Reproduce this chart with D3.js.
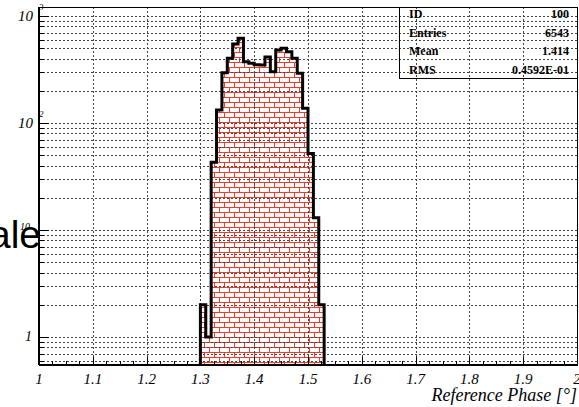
<!DOCTYPE html>
<meta charset="utf-8">

<style>
body { margin: 0; background: #fff; }
svg { display: block; }

.grid line {
  stroke: #444;
  stroke-width: 1px;
  stroke-dasharray: 2,2;
  shape-rendering: crispEdges;
}
.grid path { stroke-width: 0; }

.ticks path { display: none; }
.ticks line { stroke: #000; stroke-width: 1px; shape-rendering: crispEdges; }

.lbl {
  font-family: "Liberation Serif", "Times New Roman", Times, "DejaVu Serif", serif;
  font-style: italic;
  fill: #000;
}
.stats {
  font-family: "Liberation Serif", "Times New Roman", Times, "DejaVu Serif", serif;
  font-weight: bold;
  font-size: 12px;
  fill: #000;
}
.outline {
  fill: none;
  stroke: #000;
  stroke-width: 3px;
  stroke-linejoin: miter;
}
</style>

<body>

<script src="https://d3js.org/d3.v7.min.js"></script>

<script>

// histogram: lower bin edges and bin contents
var binLow = [1.30, 1.31, 1.32, 1.33, 1.34, 1.35, 1.36, 1.37, 1.38, 1.39, 1.40, 1.41,
              1.42, 1.43, 1.44, 1.45, 1.46, 1.47, 1.48, 1.49, 1.50, 1.51, 1.52];
var binWidth = 0.01;
var counts = [2, 1, 43, 132, 295, 402, 547, 619, 374, 361, 350, 348,
              414, 302, 481, 499, 464, 402, 291, 137, 52, 13, 2];

// axis ticks
var xTicks = [1, 1.1, 1.2, 1.3, 1.4, 1.5, 1.6, 1.7, 1.8, 1.9, 2];
var xTickLabels = ["1", "1.1", "1.2", "1.3", "1.4", "1.5", "1.6", "1.7", "1.8", "1.9", "2"];
var xMinorTicks = [1.025, 1.05, 1.075, 1.125, 1.15, 1.175, 1.225, 1.25, 1.275,
                   1.325, 1.35, 1.375, 1.425, 1.45, 1.475, 1.525, 1.55, 1.575,
                   1.625, 1.65, 1.675, 1.725, 1.75, 1.775, 1.825, 1.85, 1.875,
                   1.925, 1.95, 1.975];
var yGrid = [0.6, 0.7, 0.8, 0.9, 1, 2, 3, 4, 5, 6, 7, 8, 9,
             10, 20, 30, 40, 50, 60, 70, 80, 90,
             100, 200, 300, 400, 500, 600, 700, 800, 900, 1000];
var yMajor = [1, 10, 100, 1000];

// statistics box
var statNames = ["ID", "Entries", "Mean", "RMS"];
var statValues = ["100", "6543", "1.414", "0.4592E-01"];

var xTitle = "Reference Phase [\u00b0]";

var margin = {top: 7, right: 2, bottom: 42, left: 39},
    width = 579 - margin.left - margin.right,
    height = 407 - margin.top - margin.bottom;

var x = d3.scaleLinear().domain([1, 2]).range([0, width]);
var y = d3.scaleLog().domain([0.547, 1214]).range([height, 0]);

var root = d3.select("body").append("svg")
    .attr("width", width + margin.left + margin.right)
    .attr("height", height + margin.top + margin.bottom);

// brick fill pattern
var pat = root.append("defs").append("pattern")
    .attr("id", "brick")
    .attr("patternUnits", "userSpaceOnUse")
    .attr("width", 10)
    .attr("height", 10);
pat.append("rect").attr("width", 10).attr("height", 10).attr("fill", "#fff");
pat.append("path")
    .attr("d", "M0 0.5H10M0 5.5H10M0.5 0V5M5.5 5V10")
    .attr("stroke", "#f03c28")
    .attr("stroke-width", 1)
    .attr("fill", "none");

// stray large text at the left edge
root.append("text")
    .attr("x", 41)
    .attr("y", 248)
    .attr("text-anchor", "end")
    .style("font-family", "'Liberation Sans', Arial, sans-serif")
    .style("font-size", "39px")
    .text("scale");

var svg = root.append("g")
    .attr("transform", "translate(" + margin.left + "," + margin.top + ")");

// histogram step outline
var pts = [{x: binLow[0], y: null}];
binLow.forEach(function(lo, i) {
  pts.push({x: lo, y: counts[i]});
  pts.push({x: lo + binWidth, y: counts[i]});
});
pts.push({x: binLow[binLow.length - 1] + binWidth, y: null});

var line = d3.line()
    .x(function(d) { return x(d.x); })
    .y(function(d) { return d.y === null ? height : y(d.y); });

svg.append("path")
    .datum(pts)
    .attr("d", line)
    .attr("fill", "url(#brick)");

// gridlines
svg.append("g")
  .attr("class", "grid")
  .attr("transform", "translate(0," + height + ")")
  .call(d3.axisBottom(x)
      .tickValues(xTicks.slice(1, -1))
      .tickSize(-height)
      .tickFormat(""));

svg.append("g")
  .attr("class", "grid")
  .call(d3.axisLeft(y)
      .tickValues(yGrid)
      .tickSize(-width)
      .tickFormat(""));

svg.append("path")
    .datum(pts)
    .attr("class", "outline")
    .attr("d", line);

// inward ticks
svg.append("g")
  .attr("class", "ticks")
  .attr("transform", "translate(0," + height + ")")
  .call(d3.axisBottom(x).tickValues(xTicks).tickSize(-8).tickFormat(""));
svg.append("g")
  .attr("class", "ticks")
  .attr("transform", "translate(0," + height + ")")
  .call(d3.axisBottom(x).tickValues(xMinorTicks).tickSize(-4).tickFormat(""));
svg.append("g")
  .attr("class", "ticks")
  .call(d3.axisLeft(y).tickValues(yGrid).tickSize(-5).tickFormat(""));
svg.append("g")
  .attr("class", "ticks")
  .call(d3.axisLeft(y).tickValues(yMajor).tickSize(-10).tickFormat(""));

// frame
svg.append("rect")
    .attr("width", width)
    .attr("height", height)
    .attr("fill", "none")
    .attr("stroke", "#000")
    .attr("stroke-width", 1)
    .attr("shape-rendering", "crispEdges");
svg.append("line")
    .attr("x1", 0).attr("x2", 0).attr("y1", 0).attr("y2", height)
    .attr("stroke", "#000").attr("stroke-width", 2);
svg.append("line")
    .attr("x1", 0).attr("x2", width).attr("y1", height).attr("y2", height)
    .attr("stroke", "#000").attr("stroke-width", 2);

// x tick labels
svg.selectAll(".xlab")
  .data(xTicks)
  .enter().append("text")
    .attr("class", "lbl")
    .attr("x", function(d) { return x(d); })
    .attr("y", height + 19)
    .attr("text-anchor", "middle")
    .style("font-size", "15px")
    .text(function(d, i) { return xTickLabels[i]; });

// y tick labels
yMajor.forEach(function(v) {
  var yy = y(v);
  if (v === 1) {
    svg.append("text").attr("class", "lbl")
      .attr("x", -7).attr("y", yy + 4)
      .attr("text-anchor", "end")
      .style("font-size", "14px")
      .text("1");
  } else if (v === 10) {
    svg.append("text").attr("class", "lbl")
      .attr("x", -9).attr("y", yy)
      .attr("text-anchor", "end")
      .style("font-size", "10px")
      .text("10");
  } else {
    svg.append("text").attr("class", "lbl")
      .attr("x", -6).attr("y", yy + 5)
      .attr("text-anchor", "end")
      .style("font-size", "15px")
      .text("10");
    svg.append("text").attr("class", "lbl")
      .attr("x", 0).attr("y", yy - 6)
      .attr("text-anchor", "start")
      .style("font-size", "9px")
      .text(String(Math.round(Math.log10(v))));
  }
});

// axis title
svg.append("text")
    .attr("class", "lbl")
    .attr("x", width)
    .attr("y", height + 36)
    .attr("text-anchor", "end")
    .style("font-size", "18px")
    .text(xTitle);

// stats box
var boxW = 178, boxH = 71, rowH = 18.5;
var box = svg.append("g")
    .attr("transform", "translate(" + (width - boxW) + ",0)");
box.append("rect")
    .attr("width", boxW)
    .attr("height", boxH)
    .attr("fill", "none")
    .attr("stroke", "#000")
    .attr("stroke-width", 1)
    .attr("shape-rendering", "crispEdges");
box.selectAll(".sname")
  .data(statNames)
  .enter().append("text")
    .attr("class", "stats")
    .attr("x", 10)
    .attr("y", function(d, i) { return 11 + i * rowH; })
    .text(function(d) { return d; });
box.selectAll(".sval")
  .data(statValues)
  .enter().append("text")
    .attr("class", "stats")
    .attr("x", boxW - 8)
    .attr("y", function(d, i) { return 11 + i * rowH; })
    .attr("text-anchor", "end")
    .text(function(d) { return d; });

</script>
</body>
</html>
